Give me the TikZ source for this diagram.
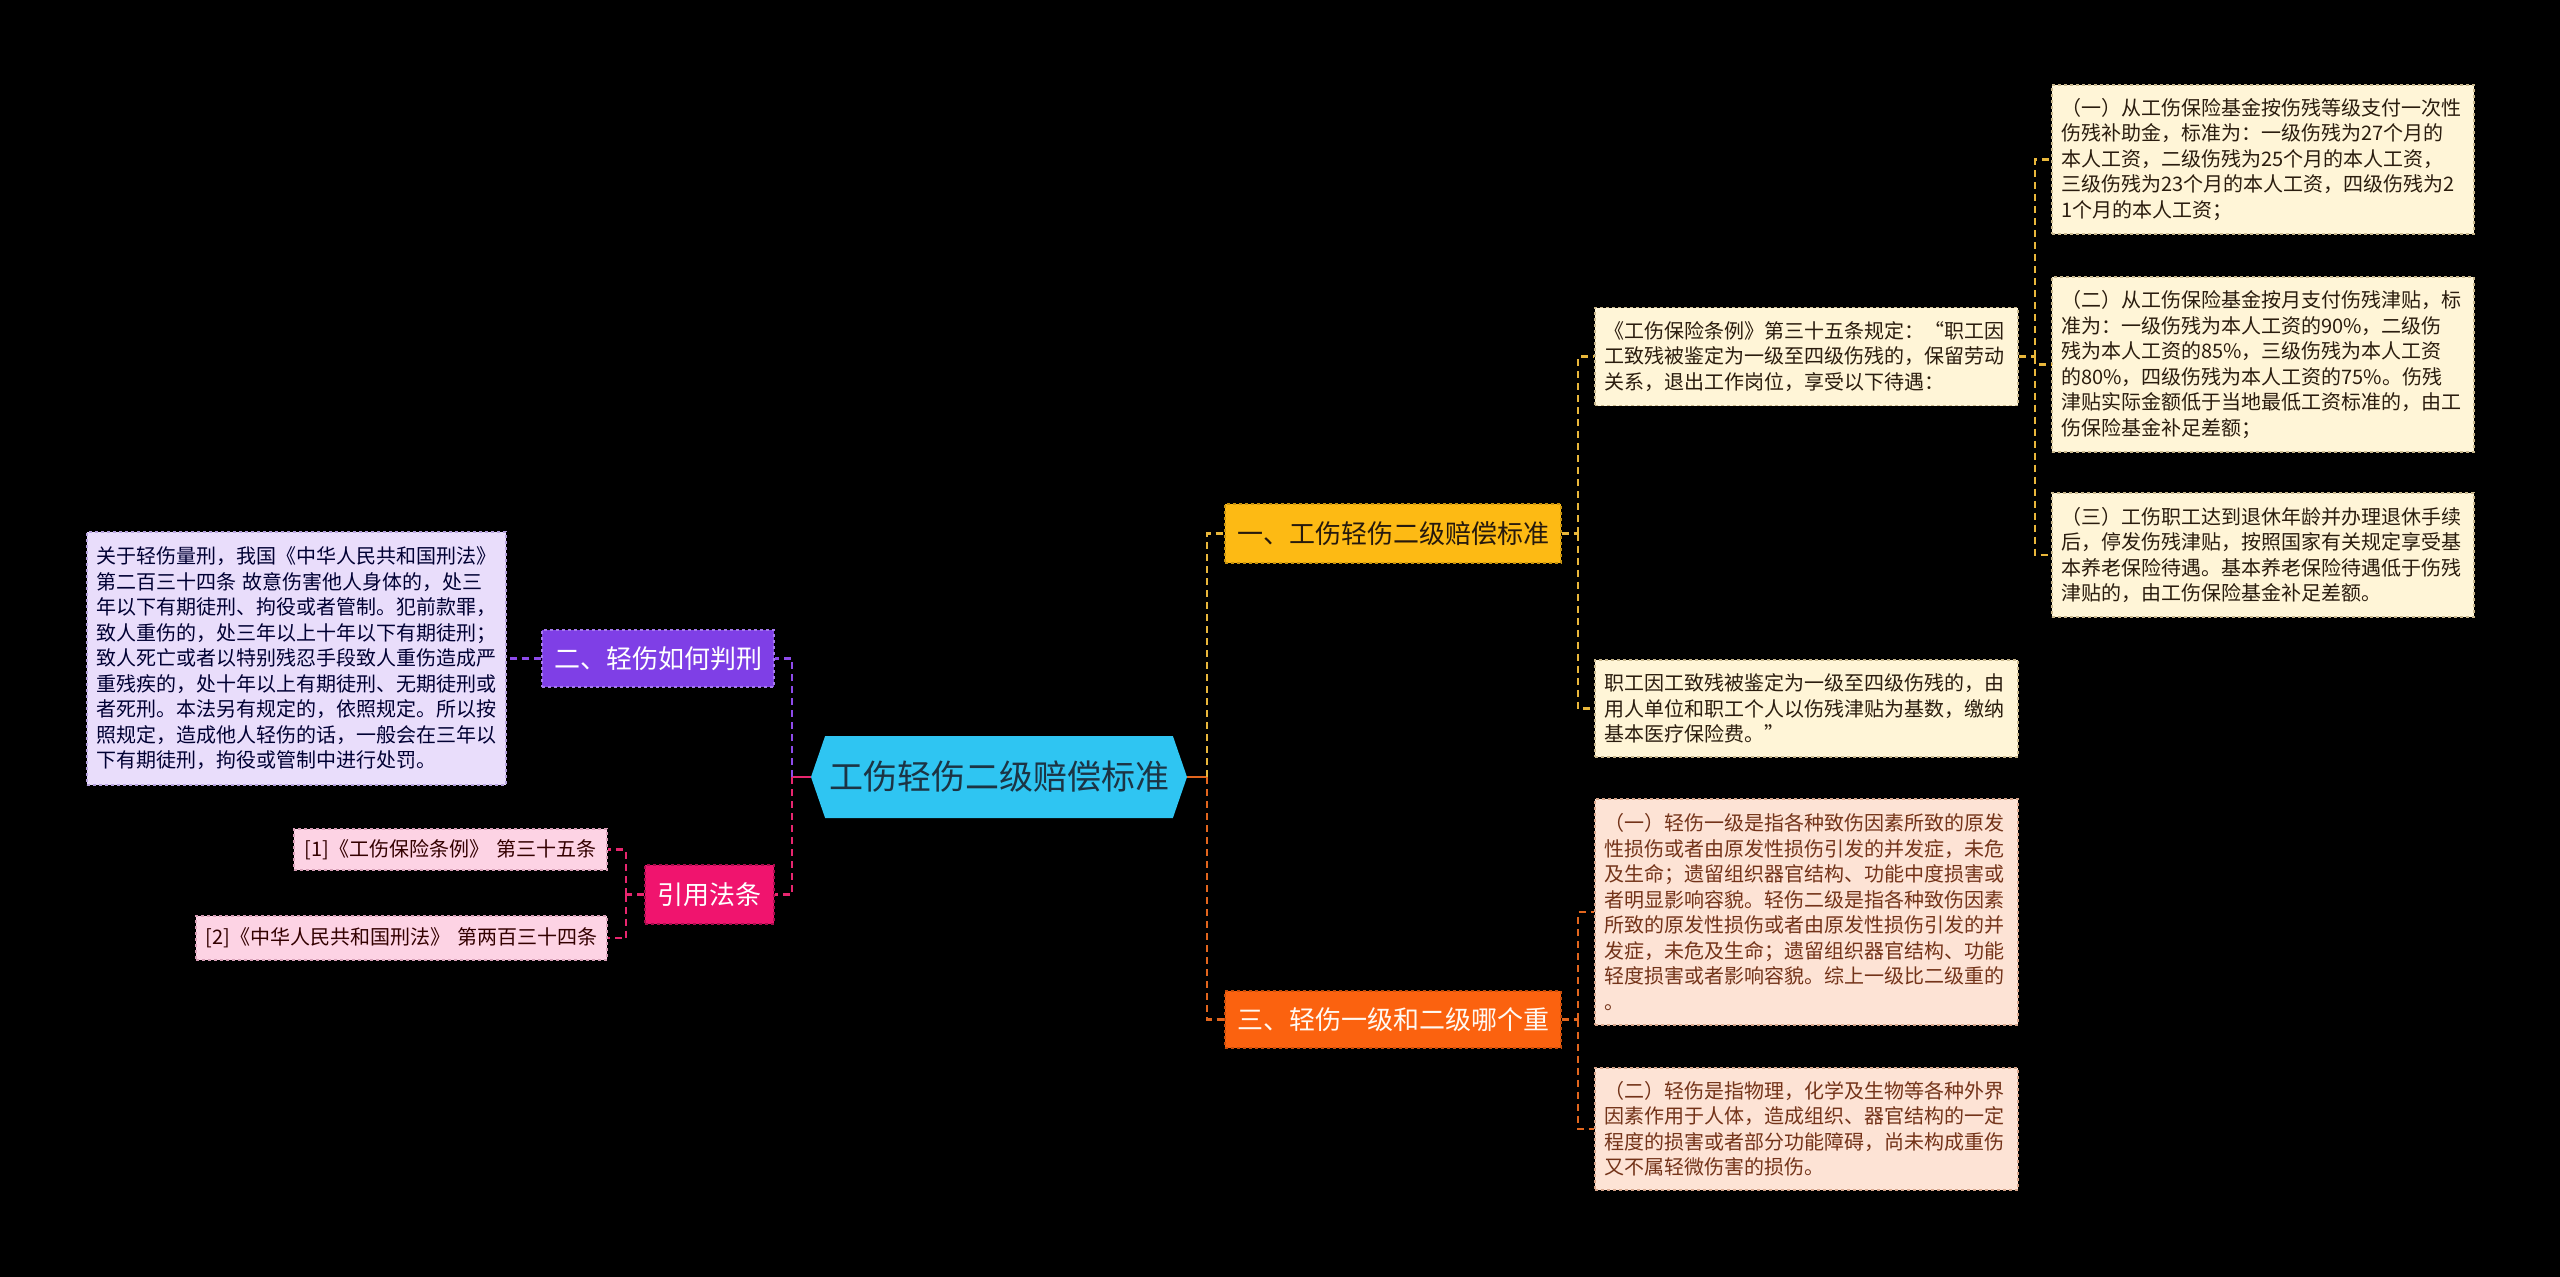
\documentclass[tikz,border=0pt]{standalone}
\usepackage{fontspec}
\setmainfont{Noto Sans CJK SC}
\usetikzlibrary{shapes.symbols}
\definecolor{cyanC}{HTML}{2FC5F2}
\definecolor{cyanT}{HTML}{1C3444}
\definecolor{amberC}{HTML}{FDBA14}
\definecolor{orangeC}{HTML}{FB620F}
\definecolor{purpleC}{HTML}{7F3FE6}
\definecolor{pinkC}{HTML}{F0146E}
\definecolor{lnY}{HTML}{E9B73B}
\definecolor{lnO}{HTML}{E2661E}
\definecolor{lnP}{HTML}{8E4BEB}
\definecolor{lnK}{HTML}{E8266F}
\definecolor{leafYf}{HTML}{FFF5D7}
\definecolor{leafYd}{HTML}{C9B88E}
\definecolor{leafOf}{HTML}{FDE3D5}
\definecolor{leafOd}{HTML}{D8A68C}
\definecolor{leafPf}{HTML}{E9DDFB}
\definecolor{leafPd}{HTML}{B7A3DE}
\definecolor{leafKf}{HTML}{FDD3E4}
\definecolor{leafKd}{HTML}{D9A0B8}
\begin{document}
\begin{tikzpicture}[x=1pt,y=-1pt,
  conn/.style={line width=2.5pt, dash pattern=on 7pt off 5pt},
  stub/.style={line width=2.5pt},
  branchbox/.style={inner sep=0pt, dashed, line width=1.3pt, font=\fontsize{26}{30}\selectfont},
  leafbox/.style={inner xsep=9pt, inner ysep=0pt, dashed, line width=1.2pt, align=left,
     font=\fontsize{20}{25.5}\selectfont},
  leafY/.style={leafbox, fill=leafYf, draw=leafYd, text=black!78!brown},
  leafO/.style={leafbox, fill=leafOf, draw=leafOd, text=black!75!red!60!brown},
  leafP/.style={leafbox, fill=leafPf, draw=leafPd, text=black!80!blue},
  leafK/.style={leafbox, fill=leafKf, draw=leafKd, text=black!80!red, align=center}
]
\fill[black] (0,0) rectangle (2560,1277);
\useasboundingbox (0,0) rectangle (2560,1277);

% centre
\node[signal, signal to=west and east, signal pointer angle=142, fill=cyanC,
  minimum width=376pt, minimum height=82pt, inner sep=0pt, text=cyanT,
  font=\fontsize{34}{38}\selectfont] (c) at (999,777) {工伤轻伤二级赔偿标准};

% main branches
\node[branchbox, fill=amberC, draw=amberC!80!black, text=black!80!brown,
  minimum width=336pt, minimum height=59pt] (b1) at (1393,533.5) {一、工伤轻伤二级赔偿标准};
\node[branchbox, fill=orangeC, draw=orangeC!80!black, text=white!95!orange,
  minimum width=336pt, minimum height=57pt] (b3) at (1393,1019.5) {三、轻伤一级和二级哪个重};
\node[branchbox, fill=purpleC, draw=purpleC!70!white, text=white,
  minimum width=232pt, minimum height=57pt] (b2) at (658,658.5) {二、轻伤如何判刑};
\node[branchbox, fill=pinkC, draw=pinkC!70!black, text=white,
  minimum width=129pt, minimum height=59pt] (b4) at (709.5,894.5) {引用法条};

% leaves of branch 1
\node[leafY, minimum width=423pt, minimum height=98pt, text width=405pt] (l1a) at (1806.5,356.5)
{《工伤保险条例》第三十五条规定：“职工因\\工致残被鉴定为一级至四级伤残的，保留劳动\\关系，退出工作岗位，享受以下待遇：};
\node[leafY, minimum width=423pt, minimum height=97pt, text width=405pt] (l1b) at (1806.5,708.5)
{职工因工致残被鉴定为一级至四级伤残的，由\\用人单位和职工个人以伤残津贴为基数，缴纳\\基本医疗保险费。”};

\node[leafY, minimum width=422pt, minimum height=149pt, text width=404pt] (s1) at (2263,159.5)
{（一）从工伤保险基金按伤残等级支付一次性\\伤残补助金，标准为：一级伤残为27个月的\\本人工资，二级伤残为25个月的本人工资，\\三级伤残为23个月的本人工资，四级伤残为2\\1个月的本人工资；};
\node[leafY, minimum width=422pt, minimum height=175pt, text width=404pt] (s2) at (2263,364.5)
{（二）从工伤保险基金按月支付伤残津贴，标\\准为：一级伤残为本人工资的90\%，二级伤\\残为本人工资的85\%，三级伤残为本人工资\\的80\%，四级伤残为本人工资的75\%。伤残\\津贴实际金额低于当地最低工资标准的，由工\\伤保险基金补足差额；};
\node[leafY, minimum width=422pt, minimum height=124pt, text width=404pt] (s3) at (2263,555)
{（三）工伤职工达到退休年龄并办理退休手续\\后，停发伤残津贴，按照国家有关规定享受基\\本养老保险待遇。基本养老保险待遇低于伤残\\津贴的，由工伤保险基金补足差额。};

% leaves of branch 3
\node[leafO, minimum width=423pt, minimum height=226pt, text width=405pt] (t1) at (1806.5,912)
{（一）轻伤一级是指各种致伤因素所致的原发\\性损伤或者由原发性损伤引发的并发症，未危\\及生命；遗留组织器官结构、功能中度损害或\\者明显影响容貌。轻伤二级是指各种致伤因素\\所致的原发性损伤或者由原发性损伤引发的并\\发症，未危及生命；遗留组织器官结构、功能\\轻度损害或者影响容貌。综上一级比二级重的\\。};
\node[leafO, minimum width=423pt, minimum height=122pt, text width=405pt] (t2) at (1806.5,1129)
{（二）轻伤是指物理，化学及生物等各种外界\\因素作用于人体，造成组织、器官结构的一定\\程度的损害或者部分功能障碍，尚未构成重伤\\又不属轻微伤害的损伤。};

% leaf of branch 2
\node[leafP, minimum width=419pt, minimum height=253pt, text width=401pt] (lp) at (296.5,658.5)
{关于轻伤量刑，我国《中华人民共和国刑法》\\第二百三十四条 故意伤害他人身体的，处三\\年以下有期徒刑、拘役或者管制。犯前款罪，\\致人重伤的，处三年以上十年以下有期徒刑；\\致人死亡或者以特别残忍手段致人重伤造成严\\重残疾的，处十年以上有期徒刑、无期徒刑或\\者死刑。本法另有规定的，依照规定。所以按\\照规定，造成他人轻伤的话，一般会在三年以\\下有期徒刑，拘役或管制中进行处罚。};

% references
\node[leafK, minimum width=313pt, minimum height=41pt, text width=295pt] (r1) at (450.5,849.5)
{[1]《工伤保险条例》 第三十五条};
\node[leafK, minimum width=411pt, minimum height=44pt, text width=393pt] (r2) at (401.5,938)
{[2]《中华人民共和国刑法》 第两百三十四条};

% junction points
\coordinate (rj) at (1207,777);
\coordinate (lj) at (792,777);
\coordinate (j1) at (1578,533.5);
\coordinate (j2) at (2035,356.5);
\coordinate (j3) at (1578,1019.5);
\coordinate (j4) at (626,894.5);

% connectors from centre
\draw[stub, lnO] (c.east) -- (rj);
\draw[conn, lnY] (rj) |- (b1.west);
\draw[conn, lnO] (rj) |- (b3.west);
\draw[stub, lnK] (c.west) -- (lj);
\draw[conn, lnP] (lj) |- (b2.east);
\draw[conn, lnK] (lj) |- (b4.east);

% branch 1
\draw[conn, lnY] (b1.east) -- (j1);
\draw[conn, lnY] (j1) |- (l1a.west);
\draw[conn, lnY] (j1) |- (l1b.west);
\draw[conn, lnY] (l1a.east) -- (j2);
\draw[conn, lnY] (j2) |- (s1.west);
\draw[conn, lnY] (j2) |- (s2.west);
\draw[conn, lnY] (j2) |- (s3.west);

% branch 3
\draw[conn, lnO] (b3.east) -- (j3);
\draw[conn, lnO] (j3) |- (t1.west);
\draw[conn, lnO] (j3) |- (t2.west);

% branch 2
\draw[conn, lnP] (b2.west) -- (lp.east);

% references
\draw[conn, lnK] (b4.west) -- (j4);
\draw[conn, lnK] (j4) |- (r1.east);
\draw[conn, lnK] (j4) |- (r2.east);
\end{tikzpicture}
\end{document}
